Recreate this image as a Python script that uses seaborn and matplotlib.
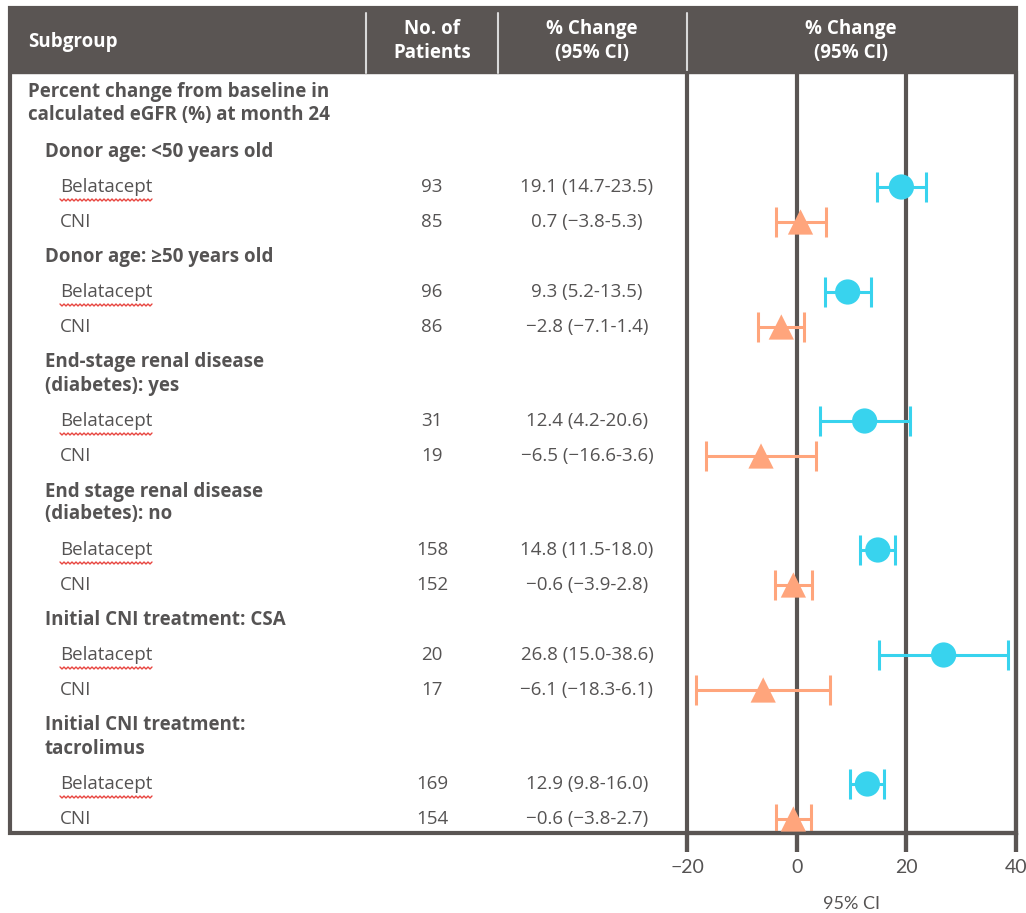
import matplotlib
matplotlib.use("Agg")
import matplotlib.pyplot as plt
import seaborn as sns
import numpy as np
import pandas as pd
from matplotlib.patches import Rectangle

sns.set_theme(style="ticks")
plt.rcParams["font.family"] = ["Open Sans", "DejaVu Sans"]

# data
title = "Percent change from baseline in\ncalculated eGFR (%) at month 24"
subgroups = ["Donor age: <50 years old",
             "Donor age: ≥50 years old",
             "End-stage renal disease\n(diabetes): yes",
             "End stage renal disease\n(diabetes): no",
             "Initial CNI treatment: CSA",
             "Initial CNI treatment:\ntacrolimus"]
arms = ["Belatacept", "CNI"]
n_bela = [93, 96, 31, 158, 20, 169]
n_cni = [85, 86, 19, 152, 17, 154]
est_bela = [19.1, 9.3, 12.4, 14.8, 26.8, 12.9]
lo_bela = [14.7, 5.2, 4.2, 11.5, 15.0, 9.8]
hi_bela = [23.5, 13.5, 20.6, 18.0, 38.6, 16.0]
est_cni = [0.7, -2.8, -6.5, -0.6, -6.1, -0.6]
lo_cni = [-3.8, -7.1, -16.6, -3.9, -18.3, -3.8]
hi_cni = [5.3, 1.4, 3.6, 2.8, 6.1, 2.7]
xticks = [-20, 0, 20, 40]

dark = "#5a5553"
txt = "#555353"
colors = {"Belatacept": "#38d3ee", "CNI": "#ffa57c"}
markers = {"Belatacept": "o", "CNI": "^"}

W, H = 1026, 913
fig = plt.figure(figsize=(W / 100, H / 100), dpi=100)
tab = fig.add_axes([0, 0, 1, 1])
tab.set_xlim(0, W)
tab.set_ylim(H, 0)
tab.axis("off")

# table frame (pixel layout)
left, right, top, head_bot, bottom = 10, 1016, 8, 73, 833
col_n, col_ci, col_plot = 366, 498, 687
tab.add_patch(Rectangle((left, top), right - left, head_bot - top, color=dark, zorder=1))
tab.add_patch(Rectangle((left, top), right - left, bottom - top, fill=False,
                        ec=dark, lw=3, zorder=3))
for xv in [col_n, col_ci, col_plot]:
    tab.plot([xv, xv], [top + 5, head_bot], color="#d9d9d9", lw=1.5, zorder=2)

fs = 13.5
hfont = dict(color="white", fontsize=fs, fontweight="bold", va="center", linespacing=1.25)
tab.text(28, 42, "Subgroup", ha="left", **hfont)
tab.text(432, 41, "No. of\nPatients", ha="center", **hfont)
tab.text(592, 41, "% Change\n(95% CI)", ha="center", **hfont)
tab.text(851, 41, "% Change\n(95% CI)", ha="center", **hfont)

# row layout
single, double = 35, 59
def fmt(v):
    return f"{v:.1f}".replace("-", "\u2212")

rows = []
arm_texts = []
cursor = head_bot + 2.5
def add(h):
    global cursor
    c = cursor + h / 2
    cursor += h
    return c

y_title = add(double) - 1.5
tab.text(28, y_title, title, ha="left", va="center", color=txt, fontsize=fs,
         fontweight="bold", linespacing=1.25)
for i, g in enumerate(subgroups):
    h = double if "\n" in g else single
    yg = add(h)
    tab.text(45, yg, g, ha="left", va="center", color=txt, fontsize=fs,
             fontweight="bold", linespacing=1.2)
    for arm, n, e, lo, hi in [("Belatacept", n_bela[i], est_bela[i], lo_bela[i], hi_bela[i]),
                              ("CNI", n_cni[i], est_cni[i], lo_cni[i], hi_cni[i])]:
        y = add(single)
        rows.append(dict(arm=arm, y=y, est=e, lo=lo, hi=hi))
        t = tab.text(60, y, arm, ha="left", va="center", color=txt, fontsize=fs)
        if arm == "Belatacept":
            arm_texts.append((t, y))
        tab.text(432, y, str(n), ha="center", va="center", color=txt, fontsize=fs)
        tab.text(587, y, f"{fmt(e)} ({fmt(lo)}-{fmt(hi)})", ha="center",
                 va="center", color=txt, fontsize=fs)

# spell-check squiggle under "Belatacept"
fig.canvas.draw()
for t, y in arm_texts:
    bb = t.get_window_extent()
    xs = np.arange(bb.x0, bb.x1, 2.0)
    ys = y + 13 + np.where(np.arange(len(xs)) % 2 == 0, -1.0, 1.0)
    tab.plot(xs, ys, color="#e8453f", lw=1.0, zorder=2)

df = pd.DataFrame(rows)

# forest plot
ax = fig.add_axes([col_plot / W, (H - bottom) / H, (right - col_plot) / W, (bottom - head_bot) / H])
ax.set_xlim(-20, 40)
ax.set_ylim(bottom, head_bot)
ax.set_facecolor("none")
for xv in [0, 20]:
    ax.axvline(xv, color=dark, lw=3, zorder=1)
for arm in arms:
    d = df[df.arm == arm]
    ax.errorbar(d.est, d.y, xerr=[d.est - d.lo, d.hi - d.est], fmt="none",
                ecolor=colors[arm], elinewidth=2.2, capsize=11, capthick=2.2, zorder=2)
sns.scatterplot(data=df, x="est", y="y", hue="arm", style="arm", palette=colors,
                markers=markers, s=330, linewidth=0, legend=False, ax=ax, zorder=3)
ax.set_yticks([])
ax.set_ylabel("")
ax.set_xticks(xticks)
ax.set_xlabel("95% CI", fontsize=13, color=txt, labelpad=14, family="Lato")
ax.tick_params(axis="x", which="major", bottom=True, direction="out", length=14,
               width=3, color=dark, labelsize=14, labelcolor=txt, pad=5)
for lab in ax.get_xticklabels():
    lab.set_family("Lato")
for s in ["left", "right", "bottom"]:
    ax.spines[s].set_color(dark)
    ax.spines[s].set_linewidth(3)
ax.spines["top"].set_visible(False)

# tick marks below the frame, placed through the forest axis scale
to_tab = ax.transData + tab.transData.inverted()
for xv in xticks:
    xp = to_tab.transform((xv, bottom))[0]
    tab.plot([xp, xp], [bottom, bottom + 19], color=dark, lw=3,
             solid_capstyle="butt", zorder=5)

fig.savefig("out.png", dpi=100)
